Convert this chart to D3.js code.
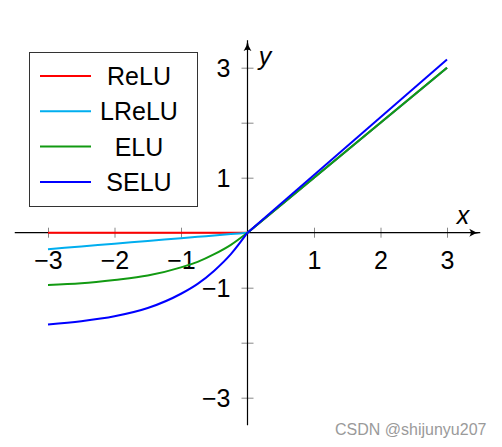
<html>
<head>
<meta charset="utf-8">
<script src="https://cdn.jsdelivr.net/npm/d3@7"></script>
<style>
body { margin: 0; background: white; }
text { font-family: "Liberation Sans", Arial, sans-serif; fill: black; }
</style>
</head>
<body>
<svg id="chart" width="502" height="447"></svg>
<script>
// values
var xs    = [-3, -2.5, -2, -1.5, -1, -0.75, -0.5, -0.25, 0, 1, 2, 3];
var relu  = [0, 0, 0, 0, 0, 0, 0, 0, 0, 1, 2, 3];
var lrelu = [-0.3, -0.25, -0.2, -0.15, -0.1, -0.075, -0.05, -0.025, 0, 1, 2, 3];
var elu   = [-0.95, -0.92, -0.86, -0.78, -0.63, -0.53, -0.39, -0.22, 0, 1, 2, 3];
var selu  = [-1.67, -1.61, -1.52, -1.37, -1.11, -0.93, -0.69, -0.39, 0, 1.05, 2.1, 3.15];
var names = ["ReLU", "LReLU", "ELU", "SELU"];
var colors = ["#ff0000", "#00aeef", "#129a12", "#0000ff"];
var xTicks = [-3, -2, -1, 1, 2, 3];
var yTicks = [-3, -2, -1, 1, 2, 3];
var yLabels = [-3, -1, 1, 3];

var svg = d3.select("#chart");
var x = d3.scaleLinear().domain([-3, 3]).range([48, 447]);
var y = d3.scaleLinear().domain([-3, 3]).range([397.7, 67.7]);
var fmt = d3.format("d");

svg.append("defs").append("marker")
    .attr("id", "arrow")
    .attr("viewBox", "0 0 12 10")
    .attr("refX", 11).attr("refY", 5)
    .attr("markerWidth", 12).attr("markerHeight", 10)
    .attr("markerUnits", "userSpaceOnUse")
    .attr("orient", "auto")
  .append("path")
    .attr("d", "M0,1 Q5,4.5 11,5 Q5,5.5 0,9 Q3,5 0,1Z")
    .attr("fill", "black");

// x axis
var gx = svg.append("g").attr("transform", "translate(0," + y(0) + ")")
  .call(d3.axisBottom(x).tickValues(xTicks).tickSize(0).tickFormat(fmt));
gx.select(".domain").remove();
gx.selectAll(".tick").append("line").attr("y1", -5).attr("y2", 5)
  .attr("stroke", "#888").attr("stroke-width", 1);
gx.selectAll(".tick text").attr("y", 36).attr("dy", 0)
  .style("font-size", "25px").attr("font-family", null);

// y axis
var gy = svg.append("g").attr("transform", "translate(" + x(0) + ",0)")
  .call(d3.axisLeft(y).tickValues(yTicks).tickSize(0)
    .tickFormat(function(d) { return yLabels.indexOf(d) >= 0 ? fmt(d) : ""; }));
gy.select(".domain").remove();
gy.selectAll(".tick").append("line").attr("x1", -6).attr("x2", 6)
  .attr("stroke", "#888").attr("stroke-width", 1);
gy.selectAll(".tick text").attr("x", -17).attr("dy", "0.36em")
  .style("font-size", "25px").attr("font-family", null);

svg.append("line")
  .attr("x1", x(-3.5)).attr("x2", x(3.5)).attr("y1", y(0)).attr("y2", y(0))
  .attr("stroke", "black").attr("stroke-width", 1.2).attr("marker-end", "url(#arrow)");
svg.append("line")
  .attr("x1", x(0)).attr("x2", x(0)).attr("y1", y(-3.5)).attr("y2", y(3.5))
  .attr("stroke", "black").attr("stroke-width", 1.2).attr("marker-end", "url(#arrow)");

svg.append("text").attr("x", 463).attr("y", 224).attr("text-anchor", "middle")
  .style("font-size", "25px").style("font-style", "italic").text("x");
svg.append("text").attr("x", 265).attr("y", 65).attr("text-anchor", "middle")
  .style("font-size", "25px").style("font-style", "italic").text("y");

// curves: smooth on the negative side, straight on the positive side
var series = [relu, lrelu, elu, selu];
var line = d3.line()
  .x(function(d) { return x(d[0]); })
  .y(function(d) { return y(d[1]); });
series.forEach(function(vals, i) {
  var pts = xs.map(function(d, j) { return [d, vals[j]]; });
  var neg = pts.filter(function(p) { return p[0] <= 0; });
  var pos = pts.filter(function(p) { return p[0] >= 0; });
  var g = svg.append("g").attr("fill", "none")
    .attr("stroke", colors[i]).attr("stroke-width", 2).attr("stroke-linejoin", "round");
  g.append("path").datum(neg).attr("d", line.curve(d3.curveMonotoneX));
  g.append("path").datum(pos).attr("d", line.curve(d3.curveLinear));
});

// legend
var lg = svg.append("g");
lg.append("rect").attr("x", 29.5).attr("y", 52.5).attr("width", 168).attr("height", 154)
  .attr("fill", "white").attr("stroke", "#333").attr("stroke-width", 1);
names.forEach(function(n, i) {
  var yy = 76 + i * 35.3;
  lg.append("line").attr("x1", 40).attr("x2", 91).attr("y1", yy).attr("y2", yy)
    .attr("stroke", colors[i]).attr("stroke-width", 2);
  lg.append("text").attr("x", 139).attr("y", yy).attr("dy", "0.36em")
    .attr("text-anchor", "middle").style("font-size", "25px").text(n);
});

svg.append("text").attr("x", 335).attr("y", 435)
  .style("font-size", "16px").style("fill", "#9a9a9a").text("CSDN @shijunyu207");
</script>
</body>
</html>
